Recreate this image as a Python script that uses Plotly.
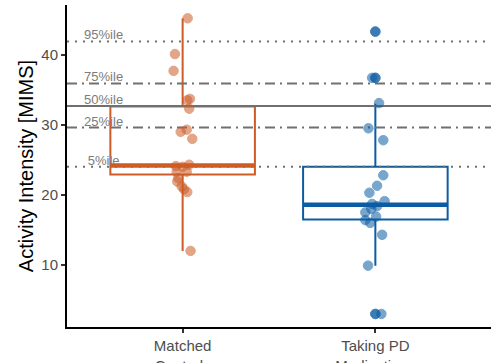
import plotly.graph_objects as go

# Group labels
groups = ["Matched<br>Controls", "Taking PD<br>Medications"]

# Activity intensity per participant, with horizontal jitter offsets
control_values = [45.2, 40.1, 37.7, 33.7, 33.5, 32.3, 29.0, 29.3, 28.0, 24.1,
                  24.3, 24.0, 23.3, 23.3, 22.4, 21.9, 21.2, 20.8, 20.4, 12.0]
control_jitter = [0.026, -0.04, -0.047, 0.038, 0.024, 0.034, -0.01, 0.021, 0.05, -0.035,
                  0.034, 0.0, -0.031, 0.021, -0.023, -0.028, -0.005, 0.007, 0.024, 0.041]

pd_values = [43.3, 43.3, 36.7, 36.7, 36.7, 33.1, 29.5, 27.8, 22.8, 21.3, 20.3, 19.1,
             18.7, 18.4, 18.0, 17.5, 16.9, 16.4, 16.0, 14.3, 9.9, 3.0, 3.0, 3.0]
pd_jitter = [0.0, 0.0, -0.017, 0.0, 0.0, 0.019, -0.036, 0.041, 0.041, 0.009, -0.031, 0.048,
             -0.017, 0.009, -0.021, -0.052, 0.004, -0.052, -0.027, 0.035, -0.038, 0.0, 0.0, 0.031]

# Box summaries: lower whisker, Q1, median, Q3, upper whisker
control_box = [12.0, 22.9, 24.2, 32.6, 45.2]
pd_box = [9.9, 16.5, 18.6, 24.0, 33.0]

# Reference population percentiles
pct_labels = ["95%ile", "75%ile", "50%ile", "25%ile", "5%ile"]
pct_values = [41.9, 35.9, 32.7, 29.6, 24.0]
pct_dash = ["2px,6px", "10px,5px,2px,5px", "solid", "10px,5px,2px,5px", "2px,6px"]

orange = "#CD5C27"
blue = "#0B5CA3"
grey = "#707070"

x_lo, x_hi = -0.6, 1.6
box_w = 0.75

fig = go.Figure()

# Percentile reference lines and their labels (beneath the boxes)
for lab, val, dash in zip(pct_labels, pct_values, pct_dash):
    fig.add_trace(go.Scatter(
        x=[x_lo, x_hi], y=[val, val], mode="lines",
        line=dict(color=grey, width=2, dash=dash),
        hoverinfo="skip", showlegend=False))
    fig.add_trace(go.Scatter(
        x=[-0.41], y=[val + 0.75], mode="text", text=[lab],
        textposition="middle center",
        textfont=dict(family="Liberation Sans, Arial", size=13, color="#7C7C7C"),
        hoverinfo="skip", showlegend=False))

# Boxes with opaque white fill and thick median bar
for i, (stats, col) in enumerate([(control_box, orange), (pd_box, blue)]):
    lo, q1, med, q3, hi = stats
    fig.add_trace(go.Box(
        x=[i], q1=[q1], median=[med], q3=[q3], lowerfence=[lo], upperfence=[hi],
        width=box_w, whiskerwidth=0, fillcolor="white",
        line=dict(color=col, width=2), boxpoints=False,
        hoverinfo="skip", showlegend=False))
    fig.add_trace(go.Scatter(
        x=[i - box_w / 2, i + box_w / 2], y=[med, med], mode="lines",
        line=dict(color=col, width=4.5),
        hoverinfo="skip", showlegend=False))

# Individual participants
for i, (vals, jit, col) in enumerate([(control_values, control_jitter, orange),
                                      (pd_values, pd_jitter, blue)]):
    fig.add_trace(go.Scatter(
        x=[i + j for j in jit], y=vals, mode="markers",
        marker=dict(color=col, size=9.5, opacity=0.55,
                    line=dict(color=col, width=1)),
        hoverinfo="y", showlegend=False))

fig.update_layout(
    width=491, height=363,
    margin=dict(l=67, r=0, t=5, b=36),
    plot_bgcolor="white", paper_bgcolor="white",
    font=dict(family="Liberation Sans, Arial"),
    xaxis=dict(
        range=[x_lo, x_hi], tickmode="array", tickvals=[0, 1], ticktext=groups,
        automargin=False,
        showgrid=False, zeroline=False, showline=True, linecolor="black", linewidth=2,
        ticks="outside", ticklen=4, tickwidth=1.5, tickcolor="#333333",
        tickfont=dict(size=15, color="#4D4D4D")),
    yaxis=dict(
        range=[1.14, 47.1], tickvals=[10, 20, 30, 40], automargin=False,
        showgrid=False, zeroline=False, showline=True, linecolor="black", linewidth=2,
        ticks="outside", ticklen=4, tickwidth=1.5, tickcolor="#333333",
        tickfont=dict(size=15, color="#4D4D4D"),
        title=dict(text="Activity Intensity [MIMS]", font=dict(size=20, color="black"),
                   standoff=2)),
)

fig.write_html("out.html")
